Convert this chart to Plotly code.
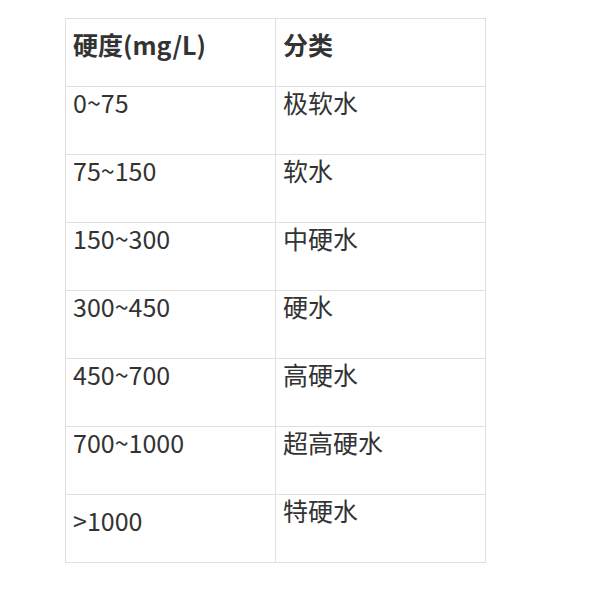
import plotly.graph_objects as go

headers = ["<b>硬度(mg/L)</b>", "<b>分类</b>"]
hardness = ["0~75", "75~150", "150~300", "300~450", "450~700", "700~1000", ">1000"]
category = ["极软水", "软水", "中硬水", "硬水", "高硬水", "超高硬水", "特硬水"]

font = dict(family="Noto Sans CJK SC", size=25, color="#333333")
line = dict(color="#e0e0e0", width=1)

fig = go.Figure(go.Table(
    columnwidth=[210, 210],
    header=dict(values=headers, height=68, align="left", fill_color="white",
                line=line, font=font),
    cells=dict(values=[hardness, category], height=68, align="left",
               fill_color="white", line=line, font=font),
    domain=dict(x=[57 / 590, 477 / 590], y=[0, 1 - 10 / 600]),
))
fig.update_layout(width=590, height=600, margin=dict(l=0, r=0, t=0, b=0),
                  paper_bgcolor="white")
fig.write_html("out.html")
